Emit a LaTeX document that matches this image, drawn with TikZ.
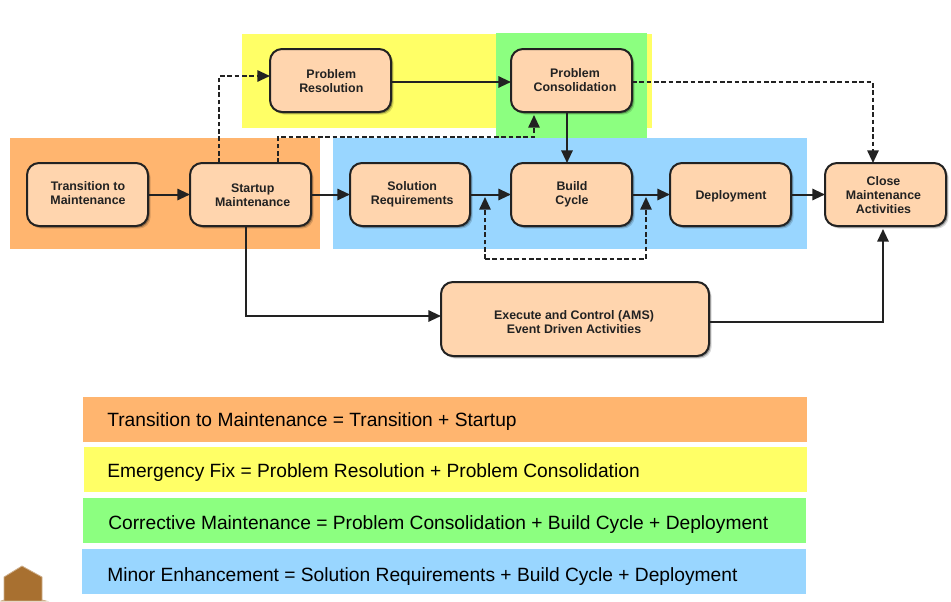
\documentclass[tikz,border=0pt]{standalone}
\usepackage{fontspec}
\setmainfont{Liberation Sans}
\usetikzlibrary{arrows.meta,shadows,calc}
\definecolor{orng}{HTML}{FFB56F}
\definecolor{yel}{HTML}{FFFF66}
\definecolor{grn}{HTML}{8CFF80}
\definecolor{blu}{HTML}{99D6FF}
\definecolor{boxc}{HTML}{FFD5AE}
\definecolor{ink}{HTML}{222222}
\definecolor{hexc}{HTML}{A87030}
\tikzset{
  x=0.75pt,y=-0.75pt,
  band/.style={fill=#1,draw=none,inner sep=0pt,outer sep=0pt,anchor=north west},
  procbox/.style={draw=ink,line width=1.5pt,fill=boxc,rounded corners=9pt,inner sep=0pt,outer sep=0pt,
    general shadow={shadow xshift=2pt,shadow yshift=-2pt,fill=black,fill opacity=0.15},
    general shadow={shadow xshift=1.2pt,shadow yshift=-1.2pt,fill=black,fill opacity=0.3}},
  boxlabel/.style={align=center,font=\bfseries\fontsize{9.3}{10.5}\selectfont,text=ink,inner sep=0pt},
  legend/.style={band=#1,minimum height=33.75pt},
  legendtext/.style={anchor=west,font=\fontsize{14.4}{16}\selectfont,inner sep=0pt,text=black},
  solid arrow/.style={draw=ink,line width=1.5pt,-{Triangle[length=9.5pt,width=8.5pt]}},
  dash arrow/.style={draw=ink,line width=1.4pt,dash pattern=on 3.5pt off 2pt,-{Triangle[length=9.5pt,width=8.5pt,fill=ink]}},
}
% name, cx, cy, w, h, dx, dy, text
\newcommand{\boxat}[8]{%
  \node[procbox,minimum width=#4*0.75pt,minimum height=#5*0.75pt] (#1) at (#2,#3) {};
  \node[boxlabel] (#1t) at ($(#1)+(#6,#7)$) {#8};}
\begin{document}
\begin{tikzpicture}
\useasboundingbox (0,0) rectangle (951,601);
\fill[white] (0,0) rectangle (951,601);
% colour zones
\node[band=orng,minimum width=232.5pt,minimum height=83.25pt] (zo) at (10,138) {};
\node[band=yel,minimum width=307.5pt,minimum height=70.5pt] (zy) at (242,34) {};
\node[band=grn,minimum width=113.25pt,minimum height=78.75pt] (zg) at (496,33) {};
\node[band=blu,minimum width=355.5pt,minimum height=83.25pt] (zb) at (333,138) {};
% boxes
\boxat{tm}{87.5}{194.5}{121}{63}{0.5}{-1}{Transition to\\Maintenance}
\boxat{sm}{250.5}{194.5}{121}{63}{2.2}{0.8}{Startup\\Maintenance}
\boxat{pr}{330.5}{80.5}{121}{63}{0.8}{0.8}{Problem\\Resolution}
\boxat{pc}{571.5}{80.5}{121}{63}{3.5}{-0.7}{Problem\\Consolidation}
\boxat{sr}{410}{194.5}{120}{63}{2.2}{-0.7}{Solution\\Requirements}
\boxat{bc}{571.5}{194.5}{121}{63}{0.5}{-0.7}{Build\\Cycle}
\boxat{de}{730.5}{194.5}{121}{63}{0.5}{1.8}{Deployment}
\boxat{cl}{885.5}{194.5}{121}{63}{-2}{0.8}{Close\\Maintenance\\Activities}
\boxat{ex}{575}{319}{268}{74}{-1}{2.8}{Execute and Control (AMS)\\Event Driven Activities}
% helper coordinates
\coordinate (up1) at (219,76);
\coordinate (up2) at (278,137);
\coordinate (up2e) at (534,137);
\coordinate (fb1) at (485,259);
\coordinate (fb2) at (646,259);
\coordinate (dn) at (873,82);
\coordinate (lowa) at (246,316);
\coordinate (lowb) at (883,322);
\coordinate (cdn) at (567,82);
% solid connectors
\draw[solid arrow] (tm.east) -- (sm.west);
\draw[solid arrow] (sm.east) -- (sr.west);
\draw[solid arrow] (sr.east) -- (bc.west);
\draw[solid arrow] (bc.east) -- (de.west);
\draw[solid arrow] (de.east) -- (cl.west);
\draw[solid arrow] (pr.east |- dn) -- (pc.west |- dn);
\draw[solid arrow] (cdn |- pc.south) -- (cdn |- bc.north);
\draw[solid arrow] (lowa |- sm.south) -- (lowa) -- (lowa -| ex.west);
\draw[solid arrow] (ex.east |- lowb) -- (lowb) -- (883,229);
% dashed connectors
\draw[dash arrow] (up1 |- sm.north) -- (up1) -- (up1 -| pr.west);
\draw[dash arrow] (up2 |- sm.north) -- (up2) -- (up2e) -- (534,115);
\draw[dash arrow] (pc.east |- dn) -- (dn) -- (dn |- cl.north);
\draw[dash arrow] (fb1) -- (485,197);
\draw[dash arrow] (fb1) -- (fb2) -- (646,197);
% legend
\node[legend=orng,minimum width=543pt] (l1) at (83,397) {};
\node[legend=yel,minimum width=542.25pt] (l2) at (84,447) {};
\node[legend=grn,minimum width=542.25pt] (l3) at (83,498) {};
\node[legend=blu,minimum width=543pt] (l4) at (82,549) {};
\node[legendtext] (t1) at (107,421.5) {Transition to Maintenance = Transition + Startup};
\node[legendtext] (t2) at (107,472.5) {Emergency Fix = Problem Resolution + Problem Consolidation};
\node[legendtext] (t3) at (108,524.5) {Corrective Maintenance = Problem Consolidation + Build Cycle + Deployment};
\node[legendtext] (t4) at (107,576.5) {Minor Enhancement = Solution Requirements + Build Cycle + Deployment};
% corner mark
\filldraw[fill=hexc,draw=hexc!55!white,line width=0.6pt] (4,577) -- (22,566) -- (42,577) -- (42,600) -- (46,601) -- (1,601) -- (4,600) -- cycle;
\end{tikzpicture}
\end{document}
